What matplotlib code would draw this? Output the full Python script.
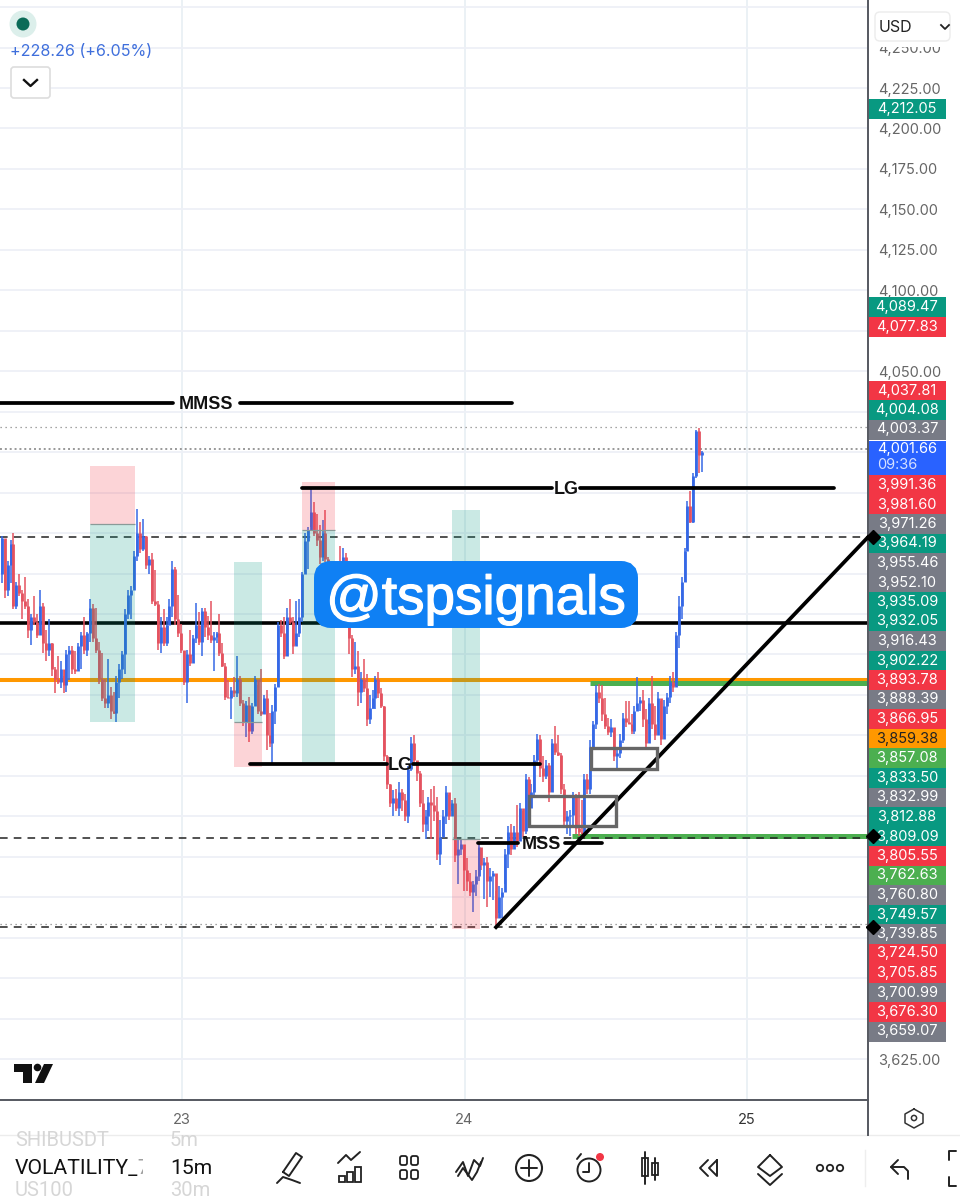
import numpy as np
import matplotlib
matplotlib.use("Agg")
import matplotlib.pyplot as plt
import matplotlib.patheffects as pe
from matplotlib.patches import Circle, FancyBboxPatch, Polygon, Rectangle

plt.rcParams["font.family"] = ["Inter", "DejaVu Sans"]

# 15m candles
first_day = 22.362
first_open = 3925
closes = [
    3947, 3915, 3930, 3943, 3905, 3918, 3913, 3908, 3905, 3890,
    3898, 3895, 3887, 3905, 3882, 3878, 3882, 3866, 3860, 3858,
    3866, 3856, 3875, 3878, 3866, 3865, 3880, 3887, 3878, 3888,
    3904, 3885, 3878, 3860, 3848, 3845, 3850, 3840, 3839, 3858,
    3866, 3875, 3900, 3912, 3915, 3936, 3950, 3940, 3948, 3930,
    3934, 3908, 3906, 3882, 3892, 3882, 3893, 3905, 3928, 3897,
    3888, 3878, 3858, 3875, 3870, 3885, 3893, 3883, 3902, 3892,
    3887, 3884, 3886, 3888, 3876, 3868, 3849, 3848, 3853, 3851,
    3860, 3845, 3833, 3844, 3828, 3843, 3860, 3840, 3838, 3848,
    3825, 3820, 3840, 3855, 3893, 3888, 3874, 3898, 3895, 3880,
    3888, 3898, 3925, 3945, 3952, 3963, 3950, 3946, 3935, 3950,
    3934, 3918, 3925, 3920, 3930, 3923, 3935, 3900, 3885, 3866,
    3868, 3852, 3860, 3854, 3835, 3842, 3848, 3860, 3851, 3843,
    3812, 3795, 3783, 3786, 3780, 3790, 3785, 3775, 3804, 3820,
    3810, 3802, 3783, 3770, 3775, 3784, 3782, 3778, 3752, 3762,
    3775, 3790, 3775, 3783, 3751, 3755, 3758, 3742, 3735, 3728,
    3733, 3738, 3756, 3745, 3747, 3735, 3738, 3740, 3712, 3725,
    3728, 3752, 3765, 3755, 3765, 3760, 3780, 3766, 3798, 3780,
    3790, 3810, 3823, 3805, 3800, 3807, 3790, 3820, 3815, 3813,
    3792, 3772, 3775, 3776, 3788, 3768, 3765, 3764, 3798, 3792,
    3818, 3832, 3852, 3848, 3838, 3831, 3827, 3830, 3812, 3814,
    3822, 3836, 3833, 3832, 3828, 3840, 3845, 3847, 3835, 3820,
    3845, 3832, 3825, 3848, 3823, 3843, 3849, 3858, 3855, 3887,
    3905, 3920, 3939, 3967, 3957, 3985, 4013, 3998, 4000,
]
highs = [
    3948, 3946, 3933, 3946, 3950, 3920, 3925, 3915, 3923, 3909,
    3900, 3911, 3900, 3915, 3907, 3890, 3897, 3882, 3867, 3874,
    3871, 3862, 3878, 3880, 3880, 3877, 3882, 3889, 3898, 3889,
    3909, 3906, 3904, 3883, 3876, 3860, 3872, 3855, 3852, 3862,
    3869, 3877, 3903, 3915, 3917, 3939, 3965, 3957, 3959, 3948,
    3936, 3938, 3927, 3908, 3898, 3903, 3898, 3909, 3933, 3929,
    3912, 3894, 3877, 3878, 3890, 3887, 3907, 3901, 3904, 3904,
    3899, 3908, 3889, 3889, 3900, 3882, 3870, 3859, 3855, 3861,
    3874, 3862, 3847, 3846, 3849, 3845, 3862, 3856, 3866, 3850,
    3853, 3839, 3844, 3857, 3895, 3896, 3898, 3904, 3909, 3898,
    3908, 3909, 3926, 3950, 3954, 3977, 3969, 3962, 3955, 3958,
    3964, 3935, 3930, 3932, 3932, 3942, 3941, 3938, 3903, 3887,
    3883, 3877, 3864, 3872, 3863, 3850, 3853, 3862, 3864, 3854,
    3843, 3813, 3795, 3791, 3792, 3796, 3792, 3789, 3806, 3824,
    3825, 3809, 3803, 3791, 3779, 3787, 3792, 3794, 3787, 3773,
    3779, 3794, 3788, 3785, 3786, 3761, 3761, 3754, 3749, 3740,
    3735, 3742, 3759, 3753, 3749, 3750, 3743, 3741, 3729, 3732,
    3731, 3755, 3769, 3770, 3769, 3782, 3783, 3778, 3801, 3799,
    3795, 3813, 3826, 3825, 3812, 3810, 3808, 3823, 3831, 3825,
    3814, 3795, 3778, 3779, 3790, 3789, 3790, 3785, 3801, 3801,
    3822, 3834, 3856, 3857, 3856, 3848, 3836, 3835, 3828, 3817,
    3826, 3839, 3846, 3846, 3838, 3843, 3861, 3849, 3853, 3841,
    3848, 3862, 3843, 3852, 3846, 3847, 3851, 3862, 3864, 3889,
    3911, 3923, 3941, 3970, 3976, 3987, 4014, 4015, 4001,
]
lows = [
    3919, 3910, 3911, 3919, 3903, 3903, 3911, 3897, 3903, 3885,
    3881, 3893, 3885, 3893, 3876, 3871, 3874, 3862, 3851, 3857,
    3854, 3851, 3852, 3859, 3863, 3863, 3866, 3866, 3875, 3874,
    3883, 3883, 3876, 3857, 3846, 3842, 3842, 3835, 3838, 3833,
    3848, 3860, 3863, 3897, 3897, 3916, 3933, 3938, 3939, 3928,
    3925, 3906, 3905, 3878, 3876, 3880, 3880, 3893, 3898, 3893,
    3886, 3876, 3856, 3845, 3868, 3874, 3882, 3881, 3874, 3886,
    3884, 3882, 3865, 3882, 3874, 3867, 3847, 3848, 3835, 3849,
    3849, 3843, 3831, 3824, 3821, 3826, 3845, 3838, 3837, 3838,
    3816, 3818, 3808, 3832, 3855, 3886, 3872, 3874, 3894, 3875,
    3881, 3886, 3895, 3926, 3928, 3954, 3948, 3942, 3931, 3933,
    3932, 3915, 3912, 3915, 3910, 3920, 3922, 3900, 3875, 3861,
    3863, 3843, 3845, 3852, 3831, 3832, 3841, 3841, 3848, 3842,
    3809, 3792, 3781, 3775, 3778, 3775, 3778, 3772, 3771, 3803,
    3808, 3797, 3781, 3765, 3761, 3766, 3761, 3772, 3748, 3745,
    3763, 3770, 3773, 3778, 3747, 3733, 3751, 3729, 3729, 3726,
    3716, 3726, 3735, 3742, 3724, 3719, 3725, 3723, 3708, 3715,
    3712, 3733, 3743, 3751, 3756, 3756, 3761, 3762, 3764, 3771,
    3786, 3788, 3807, 3799, 3796, 3798, 3784, 3790, 3813, 3812,
    3789, 3768, 3764, 3763, 3768, 3764, 3763, 3764, 3770, 3789,
    3789, 3817, 3829, 3845, 3834, 3829, 3825, 3824, 3809, 3805,
    3811, 3820, 3830, 3832, 3826, 3826, 3841, 3840, 3830, 3816,
    3832, 3829, 3822, 3833, 3819, 3825, 3838, 3845, 3852, 3856,
    3879, 3897, 3920, 3940, 3956, 3956, 3984, 3987, 3988,
]

# price scale
grid_prices = list(range(3625, 4276, 25))
shown_prices = [4250, 4225, 4200, 4175, 4150, 4125, 4100, 4050, 3625]
day_ticks = [23, 24, 25]

# long / short position boxes: left, right, top, middle, bottom
box_left = [22.674, 23.184, 23.425, 23.956]
box_right = [22.834, 23.283, 23.542, 24.055]
box_top = [3991.36, 3932.05, 3981.60, 3964.19]
box_mid = [3955.46, 3833.50, 3952.10, 3760.80]
box_bottom = [3833.50, 3805.55, 3807.90, 3705.30]
box_top_is_red = [True, False, True, False]

# horizontal drawings
black_levels = [4030.3, 3977.8, 3807.2, 3758.4]
black_starts = [22.356, 23.425, 23.241, 24.048]
black_gap_from = [22.968, 24.310, 23.726, 24.189]
black_gap_to = [23.205, 24.409, 23.818, 24.356]
black_ends = [24.168, 25.308, 24.267, 24.487]
black_names = ["MMSS", "LG", "LG", "MSS"]
dashed_levels = [3947.5, 3761.5, 3706.5]
solid_level = 3894.4
orange_level = 3859.38
green_levels = [3857.08, 3762.63]
green_starts = [24.444, 24.381]
trend_days = [24.1115, 25.428]
trend_prices = [3706.5, 3947.5]
zone_left = [24.448, 24.228]
zone_right = [24.681, 24.536]
zone_low = [3804.2, 3769.0]
zone_high = [3817.1, 3787.5]

# tags on the price axis
tag_values = ["4,212.05", "4,089.47", "4,077.83", "4,037.81", "4,004.08", "4,003.37",
              "3,991.36", "3,981.60", "3,971.26", "3,964.19", "3,955.46", "3,952.10",
              "3,935.09", "3,932.05", "3,916.43", "3,902.22", "3,893.78", "3,888.39",
              "3,866.95", "3,859.38", "3,857.08", "3,833.50", "3,832.99", "3,812.88",
              "3,809.09", "3,805.55", "3,762.63", "3,760.80", "3,749.57", "3,739.85",
              "3,724.50", "3,705.85", "3,700.99", "3,676.30", "3,659.07"]
tag_kinds = "tt" "rr" "t" "g" "rr" "g" "t" "gg" "tt" "g" "t" "r" "g" "r" "o" "l" "t" "g" "tt" "r" "l" "g" "t" "g" "rr" "g" "r" "g"
tag_rows = [109, 307, 327, 391, 410, 429.5, 485, 504.5, 524, 543.5, 563, 582.5, 602, 621.5,
            641, 661, 680, 699.5, 719, 738.5, 758, 778, 797.5, 817, 836.5, 856, 875.5,
            895, 914.5, 934, 953.5, 973, 992.5, 1012, 1031.5]
tag_colors = {"t": "#089981", "r": "#f23645", "g": "#787b86", "o": "#ff9800", "l": "#4caf50"}

BLUE = "#3568e6"
RED = "#e4525f"
XMIN, XMAX = 22.356, 25.428
YMIN, YMAX = 3599.7, 4279.4

fig = plt.figure(figsize=(9.6, 12), dpi=100, facecolor="white")
ax = fig.add_axes([0, 100 / 1200, 868 / 960, 1100 / 1200])
ax.set_xlim(XMIN, XMAX)
ax.set_ylim(YMIN, YMAX)
for side in ["top", "left"]:
    ax.spines[side].set_visible(False)
ax.spines["right"].set_color("#555860")
ax.spines["bottom"].set_color("#555860")
ax.spines["right"].set_linewidth(1.4)
ax.spines["bottom"].set_linewidth(1.4)

ax.yaxis.tick_right()
ax.set_yticks(grid_prices)
ax.set_yticklabels([f"{p:,.2f}" if p in shown_prices else "" for p in grid_prices],
                   fontsize=10.5, color="#666")
ax.set_xticks(day_ticks)
ax.set_xticklabels([str(d) for d in day_ticks], fontsize=10.5, color="#666")
ax.get_xticklabels()[-1].set_color("#333")
ax.tick_params(length=0)
ax.tick_params(axis="y", pad=7)
ax.tick_params(axis="x", pad=9)
ax.grid(axis="y", color="#eef0f7", lw=1.3, zorder=0)
ax.grid(axis="x", color="#e9f0f4", lw=1.3, zorder=0)
ax.set_axisbelow(True)

# lines that sit under the candles
ax.hlines(solid_level, XMIN, XMAX, color="black", lw=2.6, zorder=2)
ax.hlines(orange_level, XMIN, XMAX, color="#ff9800", lw=2.9, zorder=2)
ax.hlines(green_levels, green_starts, XMAX, color="#4caf50", lw=3.6, zorder=2)
ax.hlines(dashed_levels, XMIN, XMAX, color="#222", lw=1.1, linestyles=(0, (5, 4)), zorder=2)
ax.hlines([4015.5, 3708.4], XMIN, XMAX, color="#888", lw=0.9, linestyles=(0, (1, 3)), zorder=2)
ax.hlines(4001.66, XMIN, XMAX, color="#999", lw=1.4, linestyles=(0, (1, 1.5)), zorder=2)

# candles
closes = np.array(closes, dtype=float)
opens = np.r_[first_open, closes[:-1]]
bar_days = first_day + np.arange(len(closes)) / 96
bar_colors = [BLUE if c > o else RED for o, c in zip(opens, closes)]
ax.vlines(bar_days, lows, highs, colors=bar_colors, lw=1.1, zorder=3)
ax.vlines(bar_days, opens, closes, colors=bar_colors, lw=2.0, zorder=3)

# position boxes over everything so the lines tint through
for l, r, t, m, b, red_top in zip(box_left, box_right, box_top, box_mid, box_bottom, box_top_is_red):
    top_col, low_col = ("#f23645", "#089981") if red_top else ("#089981", "#f23645")
    ax.fill_between([l, r], m, t, color=top_col, alpha=0.21, lw=0, zorder=4)
    ax.fill_between([l, r], b, m, color=low_col, alpha=0.21, lw=0, zorder=4)
    ax.hlines(m, l, r, color="#8a9a98", lw=0.9, zorder=4)

# drawings on top
for lvl, a, g0, g1, e, name in zip(black_levels, black_starts, black_gap_from, black_gap_to,
                                   black_ends, black_names):
    ax.plot([a, g0], [lvl, lvl], color="black", lw=2.7, solid_capstyle="round", zorder=5)
    ax.plot([g1, e], [lvl, lvl], color="black", lw=2.7, solid_capstyle="round", zorder=5)
    ax.text((g0 + g1) / 2, lvl - 0.6, name, ha="center", va="center", fontsize=13,
            fontweight="bold", family="Liberation Sans", color="#111", zorder=6)
ax.plot(trend_days, trend_prices, color="black", lw=2.7, zorder=5)
for l, r, lo, hi in zip(zone_left, zone_right, zone_low, zone_high):
    ax.add_patch(Rectangle((l, lo), r - l, hi - lo, fill=False, ec="#666", lw=2.4, zorder=5))

# ---- everything else is app chrome, drawn in pixels on an overlay
ui = fig.add_axes([0, 0, 1, 1], zorder=10)
ui.set_xlim(0, 960)
ui.set_ylim(1200, 0)
ui.axis("off")
ui.patch.set_alpha(0)

# watermark
ui.add_patch(FancyBboxPatch((322, 569), 308, 51, boxstyle="round,pad=0,rounding_size=9",
                            fc="#0f80f4", ec="#0f80f4", lw=11.5, zorder=3))
ui.text(476, 600, "@tspsignals", color="white", fontsize=39.5, ha="center", va="center",
        family="Liberation Sans", zorder=4,
        path_effects=[pe.withStroke(linewidth=0.9, foreground="white")])

# price tags
for val, kind, row in zip(tag_values, tag_kinds, tag_rows):
    ui.add_patch(Rectangle((869, row - 10), 77, 20, fc=tag_colors[kind], lw=0, zorder=2))
    ui.text(907, row, val, color="#222" if kind == "o" else "white", fontsize=10.5,
            ha="center", va="center", zorder=3)
ui.add_patch(Rectangle((869, 441), 77, 34, fc="#2962ff", lw=0, zorder=2))
ui.text(907, 449, "4,001.66", color="white", fontsize=10.5, ha="center", va="center", zorder=3)
ui.text(897, 465, "09:36", color="#d5e0ff", fontsize=10.5, ha="center", va="center", zorder=3)
for row in [537, 836, 927]:
    ui.plot(873, row, marker="D", ms=7.5, color="black", zorder=4)

# currency box, hides the top half of the 4,250 label
ui.add_patch(Rectangle((869, 0), 91, 47, fc="white", lw=0, zorder=5))
ui.add_patch(FancyBboxPatch((875, 12), 75, 29, boxstyle="round,pad=0,rounding_size=5",
                            fc="white", ec="#ececec", lw=1, zorder=6))
ui.text(879, 27, "USD", fontsize=11.5, color="#222", va="center", zorder=7)
ui.plot([941, 945, 949], [25, 29, 25], color="#222", lw=1.3, zorder=7)

# top left legend
ui.add_patch(Circle((23, 24), 13.5, fc="#dcefeb", lw=0))
ui.add_patch(Circle((23, 24), 6.5, fc="#0b6b58", lw=0))
ui.text(10, 51, "+228.26 (+6.05%)", fontsize=11.6, color="#3f6fdc", va="center")
ui.add_patch(FancyBboxPatch((11, 67), 39, 31, boxstyle="round,pad=0,rounding_size=3",
                            fc="white", ec="#dddddd", lw=1.2))
ui.plot([24, 30.5, 37], [80, 86, 80], color="#111", lw=1.7)

# tradingview logo
ui.add_patch(Polygon([(14, 1064), (32, 1064), (32, 1083), (23, 1083), (23, 1072), (14, 1072)], fc="#111", lw=0))
ui.add_patch(Circle((37.5, 1067.5), 3.8, fc="#111", lw=0))
ui.add_patch(Polygon([(44, 1064), (53, 1064), (44, 1083), (35, 1083)], fc="#111", lw=0))

# settings hexagon under the price axis
ui.plot([914, 923, 923, 914, 905, 905, 914], [1109, 1114, 1123, 1128, 1123, 1114, 1109], color="#333", lw=1.1)
ui.add_patch(Circle((914, 1118), 2.6, fc="none", ec="#333", lw=1.1))

# bottom bar
ui.plot([0, 960], [1135, 1135], color="#ececec", lw=1)
ui.plot([868, 868], [1100, 1135], color="#555860", lw=1.4)
bar_clip = Rectangle((0, 1136), 960, 64, transform=ui.transData)
for x0, y0, label in [(15, 1141, "SHIBUSDT"), (170, 1141, "5m"), (15, 1190, "US100"), (170, 1190, "30m")]:
    t = ui.text(x0, y0, label, fontsize=14.5, color="#d6d6d6", va="center", family="Roboto")
    t.set_clip_path(bar_clip)
ui.text(15, 1168, "VOLATILITY_7", fontsize=15.2, color="#111", va="center", family="Roboto", zorder=2)
ui.add_patch(Rectangle((137, 1155), 6, 26, fc="white", alpha=0.6, lw=0, zorder=3))
ui.add_patch(Rectangle((143, 1155), 22, 26, fc="white", lw=0, zorder=3))
ui.text(170, 1168, "15m", fontsize=15.2, color="#111", va="center", family="Roboto", zorder=4)

ic = dict(color="#222", lw=1.4, solid_capstyle="round")
# pen
ui.plot([283, 296, 302, 289, 283], [1172, 1153, 1157, 1176, 1172], **ic)
ui.plot([277, 283, 292, 300], [1183, 1177, 1180, 1183], **ic)
# indicators
ui.plot([338, 346, 351, 360], [1163, 1155, 1160, 1152], **ic)
for x0, h in [(339, 6), (347, 10), (355, 15)]:
    ui.add_patch(Rectangle((x0, 1182 - h), 6, h, fill=False, ec="#222", lw=1.3))
# layouts
for x0 in [400, 411]:
    for y0 in [1156, 1170]:
        ui.add_patch(FancyBboxPatch((x0, y0), 7, 9, boxstyle="round,pad=0,rounding_size=2",
                                    fill=False, ec="#222", lw=1.3))
# drawings
ui.plot([456, 463, 468, 474, 480, 483], [1172, 1162, 1176, 1160, 1166, 1158], **ic)
ui.plot([458, 463, 472, 477, 481], [1176, 1168, 1180, 1172, 1162], **ic)
# add
ui.add_patch(Circle((529, 1168), 13, fill=False, ec="#222", lw=1.5))
ui.plot([521, 537], [1168, 1168], **ic)
ui.plot([529, 529], [1160, 1176], **ic)
# alarm
ui.add_patch(Circle((589, 1170), 11.5, fill=False, ec="#222", lw=1.4))
ui.plot([589, 589, 583], [1163, 1172, 1172], **ic)
ui.plot([577, 581], [1159, 1154], **ic)
ui.add_patch(Circle((600, 1157), 4, fc="#f23645", lw=0))
# bars
ui.plot([645, 645], [1152, 1184], **ic)
ui.add_patch(Rectangle((642, 1158), 6, 18, fc="white", ec="#222", lw=1.3))
ui.plot([655, 655], [1158, 1180], **ic)
ui.add_patch(Rectangle((652, 1163), 6, 12, fc="white", ec="#222", lw=1.3))
# replay
ui.plot([708, 700, 708], [1160, 1168, 1176], **ic)
ui.plot([717, 709, 717, 717], [1160, 1168, 1176, 1160], **ic)
# layers
ui.plot([770, 782, 770, 758, 770], [1155, 1167, 1176, 1167, 1155], **ic)
ui.plot([758, 770, 782], [1174, 1185, 1174], **ic)
# more
for x0 in [820, 830, 840]:
    ui.add_patch(Circle((x0, 1168), 3.2, fill=False, ec="#222", lw=1.3))
ui.plot([865, 865], [1150, 1186], color="#eeeeee", lw=1)
# undo
ui.plot([898, 891, 898], [1160, 1167, 1174], **ic)
ui.plot([891, 904, 908, 908], [1167, 1167, 1171, 1179], **ic)
# fullscreen corner
ui.plot([956, 949, 949], [1151, 1151, 1160], **ic)
ui.plot([956, 949, 949], [1186, 1186, 1177], **ic)

fig.savefig("out.png", dpi=100)
plt.close(fig)
